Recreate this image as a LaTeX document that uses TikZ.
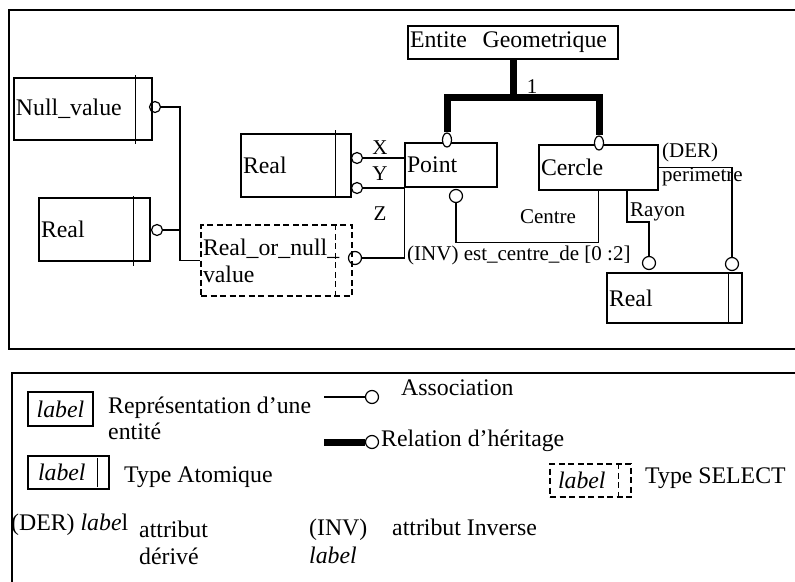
\documentclass[tikz,border=0pt]{standalone}
\usepackage{fontspec}
\setmainfont{Liberation Serif}
\usetikzlibrary{shapes.geometric,calc}
\newcommand\bigtxt{\fontsize{23.8}{27}\selectfont}
\newcommand\smtxt{\fontsize{21}{24}\selectfont}
\tikzset{
  frame/.style={line width=1.6pt},
  box/.style={draw, line width=1.2pt, rectangle, inner xsep=2pt, inner ysep=0pt, align=left, font=\bigtxt},
  dbox/.style={box, dash pattern=on 6pt off 3.5pt},
  conn/.style={line width=1.2pt},
  dconn/.style={line width=1.2pt, dash pattern=on 6pt off 3.5pt},
  inh/.style={line width=7pt},
  ring/.style={circle, draw, line width=1.2pt, minimum size=11pt, inner sep=0pt},
  bring/.style={ring, minimum size=13pt},
  oval/.style={ellipse, draw, fill=white, line width=1.2pt, minimum width=9pt, minimum height=14pt, inner sep=0pt},
  sm/.style={font=\smtxt, inner sep=0pt},
  txt/.style={font=\bigtxt, inner sep=0pt, anchor=west, align=left},
}
\begin{document}
\begin{tikzpicture}[x=1pt,y=-1pt]
\useasboundingbox (0,0) rectangle (795,581);
% frames
\draw[frame] (800,10) -- (9,10) -- (9,349) -- (800,349);
\draw[frame] (800,373) -- (12,373) -- (12,590);

% boxes
\node[box, text width=134pt, minimum height=62pt] (nullv) at (83,109) {Null\_value};
\node[box, text width=107pt, minimum height=63pt] (realL) at (94.5,229.5) {Real};
\node[dbox, text width=147pt, minimum height=71pt] (ron) at (276.5,260.5) {Real\_or\_null\_\\value};
\node[box, text width=106pt, minimum height=63pt] (realM) at (296,165.5) {Real};
\node[box, text width=206pt, minimum height=33pt] (geo) at (513,42.5) {Entite\ \ Geometrique};
\node[box, text width=88pt, minimum height=44pt] (point) at (451,165) {Point};
\node[box, text width=115pt, minimum height=45pt] (cercle) at (598.5,167.5) {Cercle};
\node[box, text width=131pt, minimum height=50pt] (realR) at (674.5,298) {Real};

% atomic-type inner lines
\draw[conn] ([xshift=-17pt,yshift=2pt]nullv.north east) -- ([xshift=-17pt,yshift=-3pt]nullv.south east);
\draw[conn] ([xshift=-17pt,yshift=1pt]realL.north east) -- ([xshift=-17pt,yshift=-4pt]realL.south east);
\draw[conn] ([xshift=-16pt,yshift=3pt]realM.north east) -- ([xshift=-16pt]realM.south east);
\draw[conn] ([xshift=-14pt]realR.north east) -- ([xshift=-14pt]realR.south east);
\draw[dconn] ([xshift=-17pt]ron.north east) -- ([xshift=-17pt]ron.south east);

% rings
\node[ring] (cnv) at (155,107) {};
\node[ring] (crl) at (157,230) {};
\node[bring] (cron) at (355,258) {};
\node[ring] (cx) at (357,158) {};
\node[ring] (cy) at (357,188) {};
\node[bring] (cpt) at (456,196) {};
\node[bring] (cra) at (649,263) {};
\node[bring] (cpe) at (732,264) {};

% associations
\coordinate (j1) at (180,260.5);
\draw[conn] (cnv.east) -| (j1) -- (ron.west);
\draw[conn] (crl.east) -- (crl.east -| j1);
\draw[conn] (cron.east) -| (point.north west);
\draw[conn] (cx.east) -- (cx.east -| point.west);
\draw[conn] (cy.east) -- (cy.east -| point.west);
\draw[conn] (cpt.south) |- ($(cercle.south)+(0,52)$) -- (cercle.south);
\coordinate (ra1) at (627,222);
\draw[conn] (cercle.south -| ra1) -- (ra1) -| (cra.north);
\draw[conn] (cercle.east) -| (cpe.north);

% inheritance
\node[oval] (opt) at (447,140) {};
\node[oval] (oce) at (599,143) {};
\coordinate (hb) at (513,97);
\draw[inh] (geo.south) -- (hb);
\draw[inh] (opt.north) -- (opt.north |- hb) -- (oce.north |- hb) -- (oce.north);

% labels
\node[sm] (lx) at (380,148) {X};
\node[sm] (ly) at (380,174) {Y};
\node[sm] (lz) at (380,214) {Z};
\node[sm] (l1) at (532,87) {1};
\node[sm] (lcentre) at (548,217) {Centre};
\node[sm, anchor=west] (linv) at (407,255) {(INV) est\_centre\_de [0 :2]};
\node[sm, anchor=west] (lder) at (662,152) {(DER)};
\node[sm, anchor=west] (lper) at (662,177) {perimetre};
\node[sm, anchor=west] (lray) at (630,212) {Rayon};

% legend
\node[box, align=center, text width=61pt, minimum height=34pt, font=\bigtxt\itshape] (lg1) at (60.5,409) {label};
\node[txt, font=\fontsize{23.8}{26}\selectfont] (t1) at (108,418) {Représentation d’une\\entité};
\coordinate (as1) at (324,397);
\node[bring] (cas) at (372,397) {};
\draw[conn] (as1) -- (cas.west);
\node[txt] (t2) at (401,388) {Association};
\coordinate (he1) at (324,442);
\node[bring] (che) at (372,442) {};
\draw[inh] (he1) -- (che.west);
\node[txt] (t3) at (381,441) {Relation d’héritage};
\node[box, inner xsep=10pt, text width=61pt, minimum height=33pt, font=\bigtxt\itshape] (lg2) at (68.5,472.5) {label};
\draw[conn] ([xshift=-12pt,yshift=-3pt]lg2.north east) -- ([xshift=-12pt,yshift=3pt]lg2.south east);
\node[txt] (t4) at (124,477) {Type Atomique};
\node[dbox, inner xsep=8pt, text width=65pt, minimum height=33pt, font=\bigtxt\itshape] (lg3) at (590.5,480.5) {label};
\draw[dconn] ([xshift=-13pt]lg3.north east) -- ([xshift=-13pt]lg3.south east);
\node[txt] (t5) at (645,478) {Type SELECT};
\node[txt] (t6) at (11,525) {(DER) \textit{labe}l};
\node[txt, font=\fontsize{23.8}{27}\selectfont] (t7) at (139,543) {attribut\\dérivé};
\node[txt, font=\fontsize{23.8}{28}\selectfont] (t8) at (309,541) {(INV)\\\textit{label}};
\node[txt] (t9) at (392,527) {attribut Inverse};
\end{tikzpicture}
\end{document}
